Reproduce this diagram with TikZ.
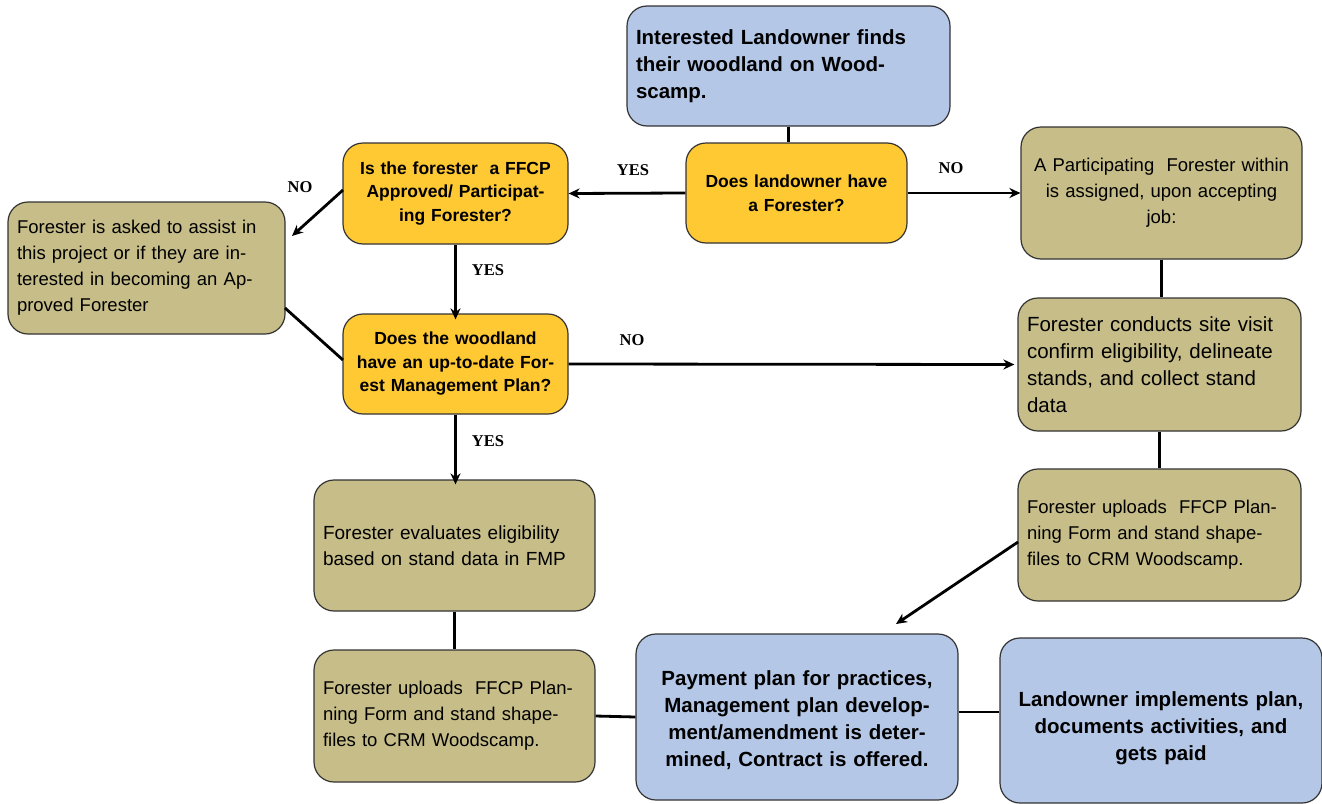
\documentclass[tikz,border=0pt]{standalone}
\usepackage{fontspec}
\setmainfont{Liberation Sans}
\newfontfamily\lblfont{Liberation Serif}
\usetikzlibrary{arrows.meta}
\definecolor{boxblue}{HTML}{B4C7E7}
\definecolor{boxyellow}{HTML}{FFC933}
\definecolor{boxkhaki}{HTML}{C6BD88}
\definecolor{edgegray}{HTML}{333333}
\tikzset{
  basebox/.style={draw=edgegray, line width=1.2pt, rounded corners=20pt, inner xsep=9pt, inner ysep=4pt},
  bluebox/.style={basebox, fill=boxblue, font=\bfseries\fontsize{20.5}{27}\selectfont},
  yellowbox/.style={basebox, fill=boxyellow, align=center, font=\bfseries\fontsize{17.5}{23.5}\selectfont},
  khakibox/.style={basebox, fill=boxkhaki, font=\fontsize{18.5}{26}\selectfont},
  conn/.style={line width=2.8pt, black},
  arr/.style={conn, -{Stealth[length=11pt,width=10pt]}},
  lbl/.style={font=\lblfont\bfseries\fontsize{16.5}{18}\selectfont, inner sep=0pt}
}
\begin{document}
\begin{tikzpicture}[x=1pt,y=-1pt]
\useasboundingbox (0,0) rectangle (1322,803);
% boxes
\node[bluebox, minimum width=323pt, minimum height=120pt, text width=305pt, align=left] (top) at (788.5,66) {Interested Landowner finds\\their woodland on Wood-\\scamp.};
\node[yellowbox, minimum width=221pt, minimum height=100pt, text width=203pt] (have) at (796.5,193) {Does landowner have\\a Forester?};
\node[yellowbox, minimum width=225pt, minimum height=101pt, text width=207pt] (ffcp) at (455.5,193.5) {Is the forester\ \ a FFCP\\Approved/ Participat-\\ing Forester?};
\node[khakibox, minimum width=277pt, minimum height=132pt, text width=259pt, align=left] (ask) at (146.5,268) {Forester is asked to assist in\\this project or if they are in-\\terested in becoming an Ap-\\proved Forester};
\node[khakibox, minimum width=281pt, minimum height=132pt, text width=263pt, align=center] (assign) at (1161.5,193) {A Participating\ \ Forester within\\is assigned,\ upon accepting\\job:};
\node[yellowbox, minimum width=225pt, minimum height=100pt, text width=207pt] (fmp) at (455.5,364) {Does the woodland\\have an up-to-date For-\\est Management Plan?};
\node[khakibox, minimum width=283pt, minimum height=133pt, text width=265pt, align=left, font=\fontsize{20.5}{27}\selectfont] (visit) at (1159.5,364.5) {Forester conducts site visit\\confirm eligibility, delineate\\stands, and collect stand\\data};
\node[khakibox, minimum width=281pt, minimum height=131pt, text width=263pt, align=left, font=\fontsize{19}{26}\selectfont] (eval) at (454.5,545.5) {Forester evaluates eligibility\\based on stand data in FMP};
\node[khakibox, minimum width=283pt, minimum height=132pt, text width=265pt, align=left] (upR) at (1159.5,535) {Forester uploads\ \ FFCP Plan-\\ning Form and stand shape-\\files to CRM Woodscamp.};
\node[khakibox, minimum width=281pt, minimum height=132pt, text width=263pt, align=left] (upL) at (454.5,716) {Forester uploads\ \ FFCP Plan-\\ning Form and stand shape-\\files to CRM Woodscamp.};
\node[bluebox, minimum width=322pt, minimum height=166pt, text width=304pt, align=center] (pay) at (797,717) {\rule{0pt}{21pt}Payment plan for practices,\\Management plan develop-\\ment/amendment is deter-\\mined, Contract is offered.};
\node[bluebox, minimum width=322pt, minimum height=165pt, text width=304pt, align=center] (impl) at (1161,720.5) {\rule{0pt}{30pt}Landowner implements plan,\\documents activities, and\\gets paid};
% connectors
\draw[conn] (top.south) -- (have.north -| top.south);
\draw[arr] (have.west) -- (ffcp.east);
\node[lbl] (lyes1) at (633,170) {YES};
\draw[arr] (have.east) -- (assign.west);
\node[lbl] (lno1) at (951,168) {NO};
\coordinate (ffcpnw) at (343,190);
\coordinate (askne) at (292,236);
\draw[arr] (ffcpnw) -- (askne);
\node[lbl] (lno2) at (300,187) {NO};
\draw[arr] (ffcp.south) -- ([yshift=-6pt]fmp.north);
\node[lbl] (lyes2) at (488,270) {YES};
\coordinate (askse) at (285,308);
\coordinate (fmpw) at (343,360);
\draw[conn] (askse) -- (fmpw);
\draw[arr] (fmp.east) -- ([xshift=-3pt]visit.west);
\node[lbl] (lno3) at (632,340) {NO};
\draw[arr] (fmp.south) -- ([yshift=-5pt]eval.north -| fmp.south);
\node[lbl] (lyes3) at (488,441) {YES};
\draw[conn] (assign.south) -- (visit.north -| assign.south);
\draw[conn] (visit.south) -- (upR.north -| visit.south);
\draw[conn] (eval.south) -- (upL.north);
\coordinate (upRw) at (1018,542);
\coordinate (payn) at (896,624);
\draw[arr] (upRw) -- (payn);
\draw[conn] (upL.east) -- (pay.west);
\draw[conn] (pay.east |- 0,712) -- (impl.west |- 0,712);
\end{tikzpicture}
\end{document}
